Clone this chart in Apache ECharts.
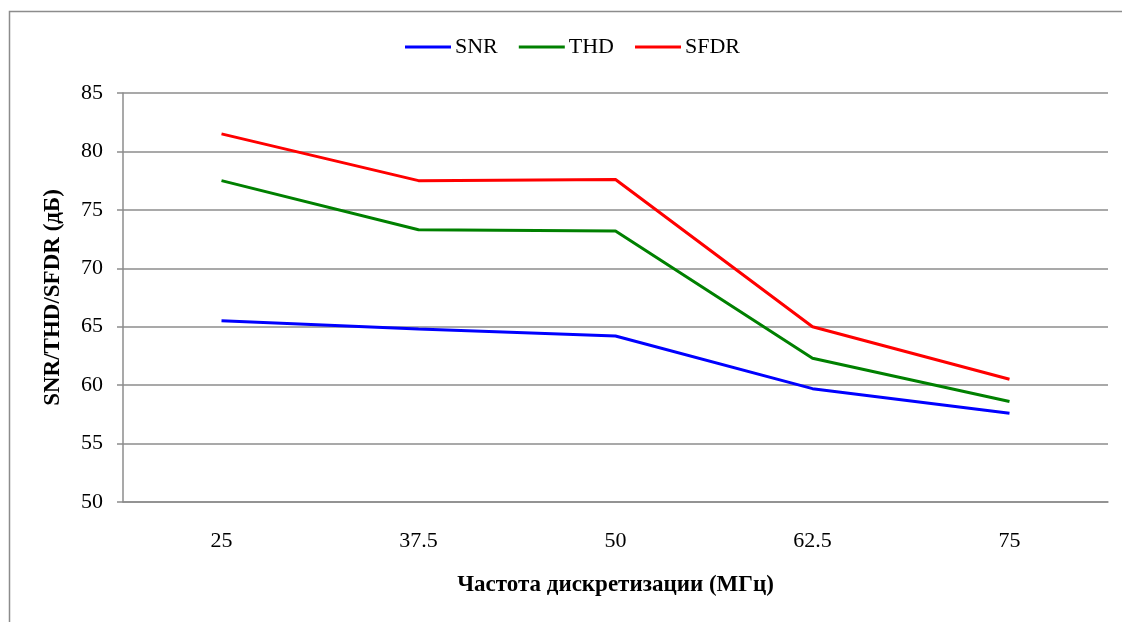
<!DOCTYPE html>
<html><head><meta charset="utf-8">
<script src="https://cdn.jsdelivr.net/npm/echarts@6/dist/echarts.min.js"></script>
<style>html,body{margin:0;padding:0;background:#fff}#c{width:1122px;height:622px}</style>
</head><body><div id="c"></div>
<script>
const categories = ['25', '37.5', '50', '62.5', '75'];
const snr  = [65.5, 64.8, 64.2, 59.7, 57.6];
const thd  = [77.5, 73.3, 73.2, 62.3, 58.6];
const sfdr = [81.5, 77.5, 77.6, 65.0, 60.5];
const font = '"Liberation Serif", "Times New Roman", serif';
const chart = echarts.init(document.getElementById('c'));
const mk = (name, data, color) => ({
  name, type: 'line', data, symbol: 'none', smooth: false,
  lineStyle: { color, width: 3 }, itemStyle: { color }
});
chart.setOption({
  animation: false,
  textStyle: { fontFamily: font },
  graphic: [{ type: 'rect', shape: { x: 9.5, y: 11.5, width: 1200, height: 700 },
    style: { fill: 'none', stroke: '#8c8c8c', lineWidth: 1.5 } }],
  legend: {
    top: 36, left: 405, padding: 0, itemWidth: 46, itemHeight: 3, itemGap: 21,
    icon: 'rect',
    textStyle: { fontFamily: font, fontSize: 22, color: '#000', padding: [0, 0, 0, -1] },
    data: ['SNR', 'THD', 'SFDR']
  },
  grid: { left: 123, right: 14, top: 93, bottom: 120 },
  xAxis: {
    type: 'category', data: categories, boundaryGap: true,
    axisLine: { lineStyle: { color: '#8c8c8c', width: 1.5 } },
    axisTick: { show: false },
    axisLabel: { fontFamily: font, fontSize: 22, color: '#000', margin: 28 },
    name: 'Частота дискретизации (МГц)', nameLocation: 'middle', nameGap: 72,
    nameTextStyle: { fontFamily: font, fontSize: 23, fontWeight: 'bold', color: '#000' }
  },
  yAxis: {
    type: 'value', min: 50, max: 85, interval: 5,
    axisLine: { show: true, lineStyle: { color: '#8c8c8c', width: 1.5 } },
    axisTick: { show: true, length: 6, lineStyle: { color: '#8c8c8c', width: 1.5 } },
    splitLine: { lineStyle: { color: '#8c8c8c', width: 1.5 } },
    axisLabel: { fontFamily: font, fontSize: 22, color: '#000', margin: 20 },
    name: 'SNR/THD/SFDR (дБ)', nameLocation: 'middle', nameGap: 58, nameRotate: 90,
    nameTextStyle: { fontFamily: font, fontSize: 23, fontWeight: 'bold', color: '#000' }
  },
  series: [mk('SNR', snr, '#0000ff'), mk('THD', thd, '#008000'), mk('SFDR', sfdr, '#ff0000')]
});
</script></body></html>
